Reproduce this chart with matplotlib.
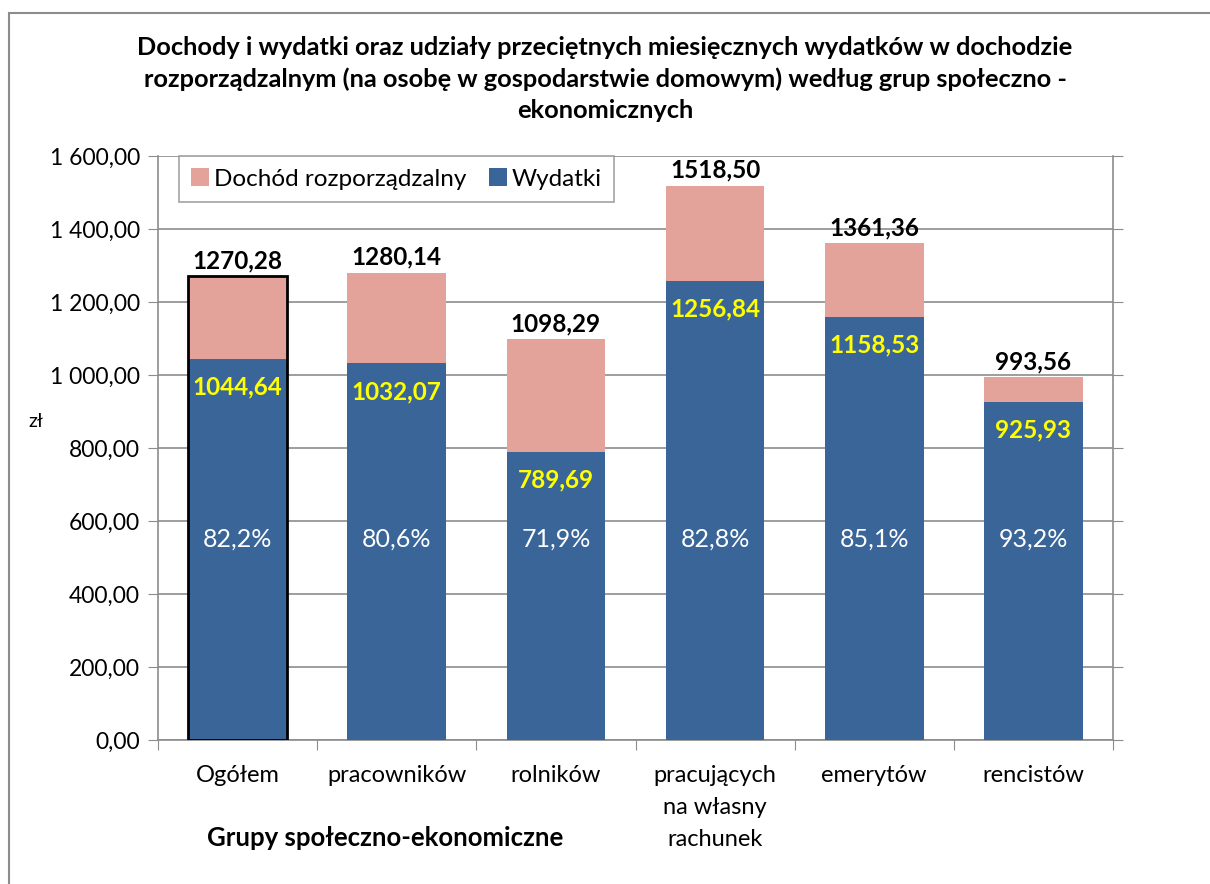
import matplotlib
matplotlib.use("Agg")
import matplotlib.pyplot as plt
from matplotlib.patches import Rectangle

plt.rcParams['font.family'] = ['Lato', 'DejaVu Sans']

kategorie = ['Ogółem', 'pracowników', 'rolników', 'pracujących\nna własny\nrachunek', 'emerytów', 'rencistów']
dochod = [1270.28, 1280.14, 1098.29, 1518.50, 1361.36, 993.56]
wydatki = [1044.64, 1032.07, 789.69, 1256.84, 1158.53, 925.93]
udzial = ['82,2%', '80,6%', '71,9%', '82,8%', '85,1%', '93,2%']

kol_doch = '#E3A39A'
kol_wyd = '#3A6598'
szary = '#8C8C8C'

def fmt(v):
    return ('%.2f' % v).replace('.', ',')

fig = plt.figure(figsize=(12.1, 8.84), dpi=100)
fig.patches.append(Rectangle((9 / 1210, -0.1), 1.2, 1 - 13 / 884 + 0.1, transform=fig.transFigure,
                             fill=False, edgecolor=szary, linewidth=1.5))
ax = fig.add_axes([158 / 1210, 1 - 740 / 884, (1113 - 158) / 1210, (740 - 156) / 884])

x = list(range(len(kategorie)))
reszta = [d - w for d, w in zip(dochod, wydatki)]
b1 = ax.bar(x, wydatki, width=0.62, color=kol_wyd, label='Wydatki', zorder=3)
b2 = ax.bar(x, reszta, bottom=wydatki, width=0.62, color=kol_doch, label='Dochód rozporządzalny', zorder=3)

# pierwszy słupek zaznaczony czarną ramką
ax.add_patch(Rectangle((x[0] - 0.31, 0), 0.62, dochod[0], fill=False, edgecolor='black', linewidth=2, zorder=4))

for i in x:
    ax.annotate(fmt(dochod[i]), (i, dochod[i]), xytext=(0, 3), textcoords='offset points',
                ha='center', va='bottom', fontsize=17.5, fontweight='bold', color='black', zorder=5)
    ax.annotate(fmt(wydatki[i]), (i, wydatki[i]), xytext=(0, -12), textcoords='offset points',
                ha='center', va='top', fontsize=17.5, fontweight='bold', color='#FFFF00', zorder=5)
    ax.text(i, 550, udzial[i], ha='center', va='center', fontsize=18, color='white', zorder=5)

ax.set_xlim(-0.5, len(kategorie) - 0.5)
ax.set_ylim(0, 1600)
ax.set_yticks(range(0, 1601, 200))
ax.set_yticklabels([fmt(v).replace('1000', '1 000').replace('1200', '1 200').replace('1400', '1 400').replace('1600', '1 600')
                    for v in range(0, 1601, 200)])
ax.set_xticks([i + 0.5 for i in range(-1, len(kategorie))], minor=False)
ax.set_xticklabels([])
ax.set_xticks(x, minor=True)
ax.set_xticklabels(kategorie, minor=True, fontsize=17, va='top', linespacing=1.65)
ax.tick_params(axis='x', which='minor', length=0, pad=18)
ax.tick_params(axis='x', which='major', length=7, color=szary, direction='out')
ax.tick_params(axis='y', length=7, color=szary, direction='out', labelsize=16.5, right=True, pad=6)
ax.yaxis.grid(True, color=szary, linewidth=1.2, zorder=0)
for s in ax.spines.values():
    s.set_color(szary)
    s.set_linewidth(1.2)
ax.spines['top'].set_visible(False)

ax.set_ylabel('zł', fontsize=14, rotation=0, labelpad=0)
ax.yaxis.set_label_coords(-0.128, 0.53)

h, l = ax.get_legend_handles_labels()
leg = ax.legend(h[::-1], l[::-1], loc='upper left', bbox_to_anchor=(0.022, 1.0), ncol=2, fontsize=17.5,
                frameon=True, fancybox=False, edgecolor=szary, handlelength=0.75, handleheight=0.75,
                handletextpad=0.2, columnspacing=0.9, borderpad=0.5, borderaxespad=0.0)
leg.get_frame().set_linewidth(1.2)

fig.text(0.5, 1 - 79 / 884, 'Dochody i wydatki oraz udziały przeciętnych miesięcznych wydatków w dochodzie\n'
         'rozporządzalnym (na osobę w gospodarstwie domowym) według grup społeczno -\nekonomicznych',
         ha='center', va='center', fontsize=18.3, fontweight='bold', linespacing=1.42)
fig.text(385 / 1210, 1 - 838 / 884, 'Grupy społeczno-ekonomiczne', ha='center', va='center',
         fontsize=18.5, fontweight='bold')

fig.savefig('out.png', dpi=100)
